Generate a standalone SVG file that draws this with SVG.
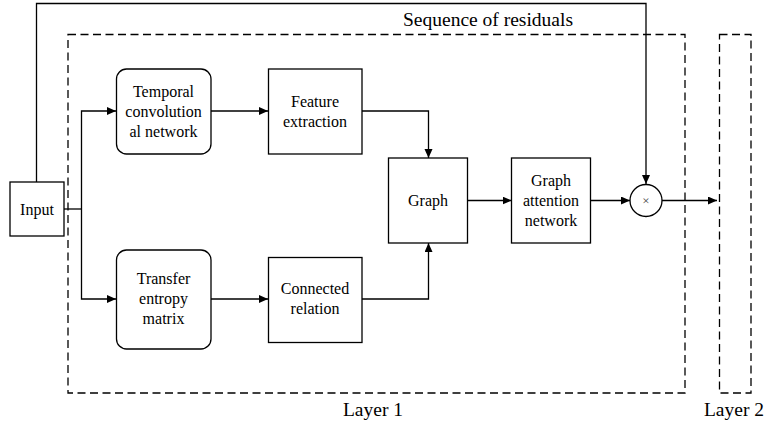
<svg xmlns="http://www.w3.org/2000/svg" width="765" height="427" viewBox="0 0 765 427">
<style>
.box{fill:#fff;stroke:#000;stroke-width:1.3}
.dash{fill:none;stroke:#000;stroke-width:1.3;stroke-dasharray:8,4.5}
.ln{fill:none;stroke:#000;stroke-width:1.3}
.t{font-family:"Liberation Serif","Times New Roman",serif;font-size:16px;fill:#000;text-anchor:middle}
.big{font-family:"Liberation Serif","Times New Roman",serif;font-size:19.5px;fill:#000;text-anchor:middle}
</style>
<defs>
<marker id="ah" markerWidth="10" markerHeight="10" refX="9" refY="4" orient="auto" markerUnits="userSpaceOnUse">
<path d="M0,0 L9,4 L0,8 Z" fill="#000"/>
</marker>
</defs>
<rect width="765" height="427" fill="#fff"/>
<g id="layer1"><rect class="dash" x="68" y="34.5" width="617" height="358.5"/><text class="big" x="373" y="416">Layer 1</text></g>
<g id="layer2"><rect class="dash" x="719.5" y="34.5" width="31.5" height="358.5"/><text class="big" x="734" y="416">Layer 2</text></g>
<g id="connectors">
<polyline class="ln" points="36.5,182 36.5,3.5 646,3.5 646,184" marker-end="url(#ah)"/>
<polyline class="ln" points="64,209 81.5,209"/>
<polyline class="ln" points="81.5,209 81.5,111 116,111" marker-end="url(#ah)"/>
<polyline class="ln" points="81.5,209 81.5,299 116,299" marker-end="url(#ah)"/>
<line class="ln" x1="211" y1="111" x2="268" y2="111" marker-end="url(#ah)"/>
<line class="ln" x1="211" y1="299" x2="268" y2="299" marker-end="url(#ah)"/>
<polyline class="ln" points="362,111 428.5,111 428.5,158" marker-end="url(#ah)"/>
<polyline class="ln" points="362,299 428.5,299 428.5,243" marker-end="url(#ah)"/>
<line class="ln" x1="468" y1="200.5" x2="511.5" y2="200.5" marker-end="url(#ah)"/>
<line class="ln" x1="591" y1="200.5" x2="630" y2="200.5" marker-end="url(#ah)"/>
<line class="ln" x1="662" y1="200.5" x2="717" y2="200.5" marker-end="url(#ah)"/>
</g>
<text class="big" x="488" y="26">Sequence of residuals</text>
<g id="input"><rect class="box" x="10" y="182" width="54" height="54"/><text class="t" x="37" y="215">Input</text></g>
<g id="tcn"><rect class="box" x="116.5" y="69" width="94.5" height="85" rx="10"/><text class="t" x="163.5" y="97">Temporal</text><text class="t" x="163.5" y="117">convolution</text><text class="t" x="163.5" y="137">al network</text></g>
<g id="feature"><rect class="box" x="268.5" y="69" width="93.5" height="85"/><text class="t" x="315" y="107">Feature</text><text class="t" x="315" y="127">extraction</text></g>
<g id="te"><rect class="box" x="116.5" y="250" width="94.5" height="99" rx="10"/><text class="t" x="163.5" y="284">Transfer</text><text class="t" x="163.5" y="304">entropy</text><text class="t" x="163.5" y="324">matrix</text></g>
<g id="connected"><rect class="box" x="268.5" y="257.5" width="93.5" height="85"/><text class="t" x="315" y="294">Connected</text><text class="t" x="315" y="314">relation</text></g>
<g id="graph"><rect class="box" x="388.5" y="158" width="79" height="85"/><text class="t" x="428" y="206">Graph</text></g>
<g id="gat"><rect class="box" x="511.5" y="158" width="79" height="85"/><text class="t" x="551" y="186">Graph</text><text class="t" x="551" y="206">attention</text><text class="t" x="551" y="226">network</text></g>
<g id="mult"><circle class="box" cx="646" cy="200.5" r="16"/><text class="t" x="646" y="205" style="font-size:13px;fill:#444">×</text></g>
</svg>
